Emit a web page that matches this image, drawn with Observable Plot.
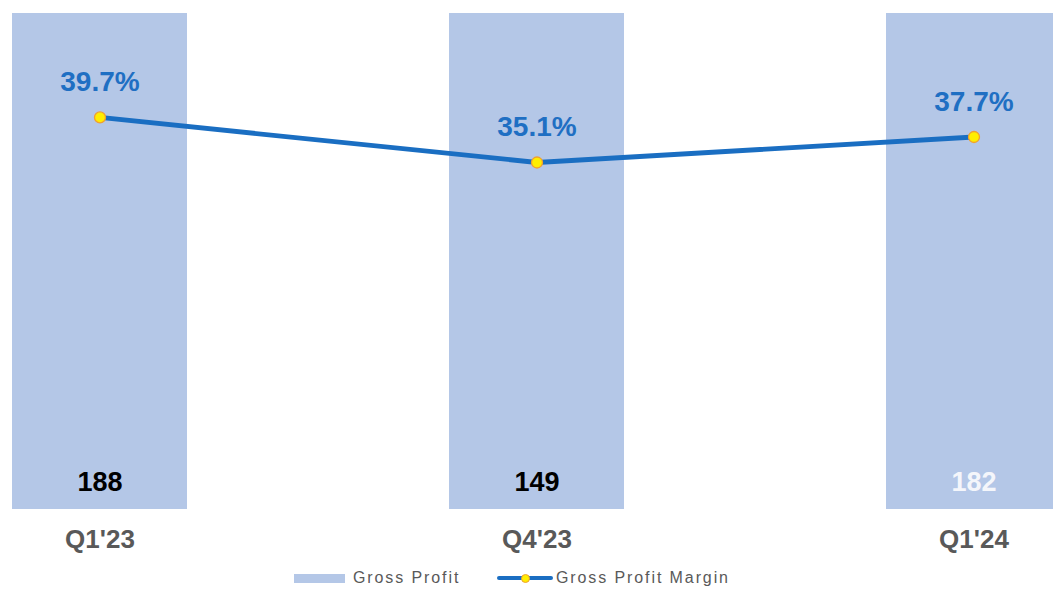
<!DOCTYPE html>
<html>
<head>
<meta charset="utf-8">
<script src="https://cdn.jsdelivr.net/npm/d3@7"></script>
<script src="https://cdn.jsdelivr.net/npm/@observablehq/plot@0.6"></script>
<style>
  html, body { margin: 0; padding: 0; background: #fff; overflow: hidden; }
  #chart { width: 1053px; height: 560px; overflow: hidden; position: relative; }
  #chart svg { overflow: hidden; }
  #legend { position: relative; width: 1053px; height: 32px; font-family: "Liberation Sans", Arial, sans-serif; color: #595959; font-size: 16px; letter-spacing: 1.9px; }
  #legend .sw-bar { position: absolute; left: 294px; top: 14px; width: 51px; height: 9px; background: #b4c7e7; }
  #legend .sw-line { position: absolute; left: 497px; top: 16px; width: 56px; height: 4px; background: #1a6ec2; border-radius: 2px; }
  #legend .sw-dot { position: absolute; left: 521px; top: 14px; width: 7px; height: 7px; border-radius: 50%; background: #ffee00; border: 1px solid #f0a030; }
  #legend .t1 { position: absolute; left: 353px; top: 9px; line-height: 18px; }
  #legend .t2 { position: absolute; left: 556px; top: 9px; line-height: 18px; }
</style>
</head>
<body>
<div id="chart"></div>
<div id="legend">
  <span class="sw-bar"></span><span class="t1">Gross Profit</span>
  <span class="sw-line"></span><span class="sw-dot"></span><span class="t2">Gross Profit Margin</span>
</div>
<script>
const quarters = ["Q1'23", "Q4'23", "Q1'24"];
const grossProfit = [188, 149, 182];
const grossMargin = [39.7, 35.1, 37.7];
const marginLabels = ["39.7%", "35.1%", "37.7%"];
const valueColors = ["#000000", "#000000", "#f4f6fb"];

const data = quarters.map((q, i) => ({
  q, gp: grossProfit[i], m: grossMargin[i], ml: marginLabels[i], vc: valueColors[i]
}));

const W = 1053, H = 560;
const barMax = 145;
// secondary axis (margin %) mapped onto the bar axis
const mScale = d3.scaleLinear().domain([-0.3, 50.3]).range([0, barMax]);

const chart = Plot.plot({
  width: W,
  height: H,
  marginTop: 13,
  marginBottom: 51,
  marginLeft: 0,
  marginRight: 0,
  style: { fontFamily: "'Liberation Sans', Arial, sans-serif", background: "#fff", overflow: "hidden" },
  x: { type: "band", domain: quarters, range: [11.5, 1060.3], paddingInner: 0.6, paddingOuter: 0, label: null },
  y: { domain: [0, barMax], clamp: true, axis: null },
  marks: [
    Plot.barY(data, { x: "q", y: "gp", fill: "#b4c7e7" }),
    Plot.line(data, { x: "q", y: d => mScale(d.m), stroke: "#1a6ec2", strokeWidth: 4.8 }),
    Plot.dot(data, { x: "q", y: d => mScale(d.m), r: 5.5, fill: "#ffee00", stroke: "#f0a030", strokeWidth: 1.3 }),
    Plot.text(data, { x: "q", y: d => mScale(d.m), text: "ml", dy: -35, lineAnchor: "middle", fill: "#1f6fc3", fontSize: 28, fontWeight: "bold" }),
    Plot.text(data, { x: "q", y: 0, text: d => String(d.gp), dy: -27, lineAnchor: "middle", fill: "vc", fontSize: 27, fontWeight: "bold" }),
    Plot.axisX({ tickSize: 0, tickPadding: 20, fontSize: 26, fontWeight: "bold", color: "#595959", label: null })
  ]
});
document.getElementById("chart").appendChild(chart);
</script>
</body>
</html>
